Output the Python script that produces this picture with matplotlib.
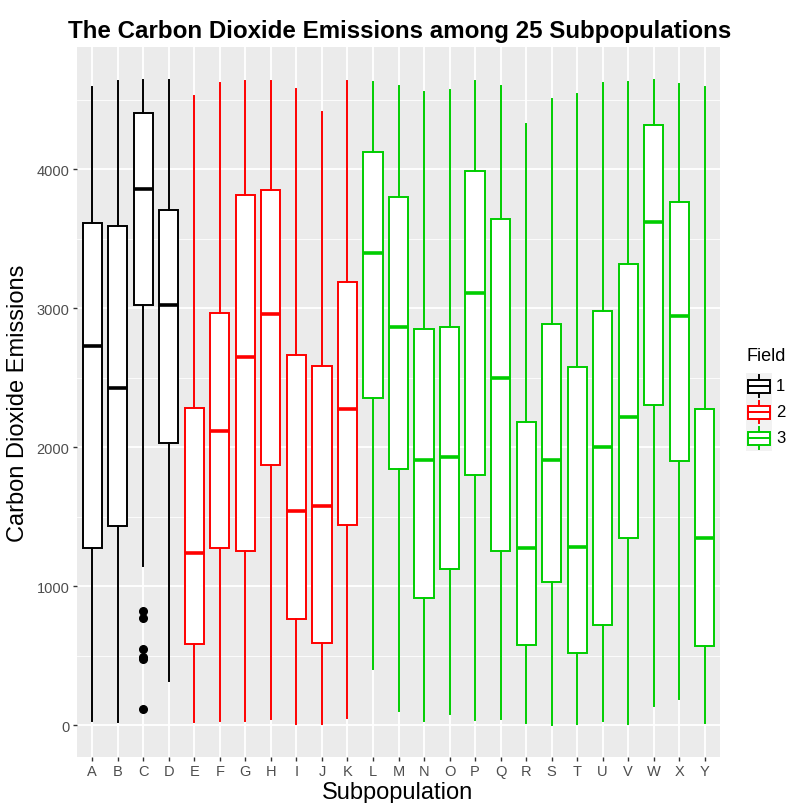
import matplotlib
matplotlib.use("Agg")
import matplotlib.pyplot as plt
from matplotlib.patches import Rectangle

plt.rcParams['font.family'] = ['Liberation Sans', 'DejaVu Sans']

# Werte
subpops = list("ABCDEFGHIJKLMNOPQRSTUVWXY")
field = [1, 1, 1, 1, 2, 2, 2, 2, 2, 2, 2,
         3, 3, 3, 3, 3, 3, 3, 3, 3, 3, 3, 3, 3, 3]
whis_lo = [26, 19, 1146, 314, 19, 31, 31, 43, 7, 6, 51,
           405, 100, 32, 77, 39, 42, 13, 3, 6, 26, 6, 135, 186, 13]
q1 = [1271, 1432, 3019, 2031, 585, 1276, 1252, 1871, 760, 588, 1440,
      2350, 1839, 913, 1122, 1797, 1254, 576, 1029, 521, 720, 1347, 2305, 1897, 566]
med = [2729, 2427, 3856, 3022, 1240, 2115, 2645, 2957, 1542, 1579, 2273,
       3395, 2862, 1907, 1929, 3109, 2498, 1270, 1907, 1280, 2003, 2215, 3617, 2945, 1344]
q3 = [3609, 3590, 4403, 3707, 2283, 2962, 3813, 3849, 2664, 2585, 3186,
      4119, 3801, 2846, 2862, 3987, 3640, 2183, 2887, 2576, 2977, 3315, 4315, 3762, 2270]
whis_hi = [4592, 4631, 4640, 4638, 4528, 4619, 4633, 4633, 4578, 4408, 4630,
           4624, 4601, 4556, 4572, 4630, 4598, 4322, 4502, 4537, 4617, 4624, 4643, 4614, 4588]
outliers_C = [818, 768, 547, 492, 475, 115]

field_colors = {1: "black", 2: "#FF0000", 3: "#00CD00"}

fig = plt.figure(figsize=(7.87, 8.04), dpi=100)
W, H = 787, 804
ax = fig.add_axes([77 / W, 1 - 757.7 / H, (720 - 77) / W, (757.7 - 48) / H])
ax.set_facecolor("#EBEBEB")

# Gitternetz wie ggplot
for v in [500, 1500, 2500, 3500, 4500]:
    ax.axhline(v, color="white", lw=0.6, zorder=0)
for v in [0, 1000, 2000, 3000, 4000]:
    ax.axhline(v, color="white", lw=1.3, zorder=0)
for i in range(1, len(subpops) + 1):
    ax.axvline(i, color="white", lw=1.3, zorder=0)

for f, c in field_colors.items():
    idx = [i for i in range(len(subpops)) if field[i] == f]
    stats = []
    for i in idx:
        stats.append({
            "whislo": whis_lo[i], "q1": q1[i], "med": med[i],
            "q3": q3[i], "whishi": whis_hi[i],
            "fliers": outliers_C if subpops[i] == "C" else [],
        })
    ax.bxp(stats, positions=[i + 1 for i in idx], widths=0.75,
           patch_artist=True, showcaps=False, manage_ticks=False,
           boxprops=dict(facecolor="white", edgecolor=c, linewidth=1.4),
           whiskerprops=dict(color=c, linewidth=1.4),
           medianprops=dict(color=c, linewidth=2.6, solid_capstyle="butt"),
           flierprops=dict(marker="o", markerfacecolor="black",
                           markeredgecolor="black", markersize=5.5))

ax.set_xlim(0.4, 25.6)
ax.set_ylim(-228, 4878)
ax.set_xticks(range(1, len(subpops) + 1))
ax.set_xticklabels(subpops)
ax.set_yticks([0, 1000, 2000, 3000, 4000])
ax.tick_params(axis="both", colors="#333333", labelcolor="#4D4D4D",
               labelsize=10.5, length=3, width=1, pad=2.5)
for s in ax.spines.values():
    s.set_visible(False)

fig.text(400 / W, 1 - 38 / H, "The Carbon Dioxide Emissions among 25 Subpopulations",
         ha="center", va="baseline", fontsize=17.4, fontweight="bold")
fig.text(398 / W, 1 - 799 / H, "Subpopulation", ha="center", va="baseline", fontsize=17)
fig.text(18 / W, 1 - 403 / H, "Carbon Dioxide Emissions", ha="center", va="center",
         rotation=90, fontsize=17)

# Legende (rechts)
lg = fig.add_axes([0, 0, 1, 1], facecolor="none")
lg.set_xlim(0, W)
lg.set_ylim(H, 0)
lg.axis("off")
lg.text(746, 357, "Field", ha="left", va="center", fontsize=13)
for k, (f, c) in enumerate(field_colors.items()):
    cy = 387 + 26 * k
    lg.add_patch(Rectangle((746, cy - 13), 26, 26, facecolor="#F2F2F2",
                           edgecolor="none", zorder=1))
    lg.plot([759, 759], [cy - 11, cy + 11], color=c, lw=1.4, zorder=2)
    lg.add_patch(Rectangle((748, cy - 6.5), 22, 13, facecolor="white",
                           edgecolor=c, lw=1.4, zorder=3))
    lg.plot([748, 770], [cy, cy], color=c, lw=1.4, zorder=4)
    lg.text(776, cy, str(f), ha="left", va="center", fontsize=12)

fig.savefig("out.png", dpi=100)
